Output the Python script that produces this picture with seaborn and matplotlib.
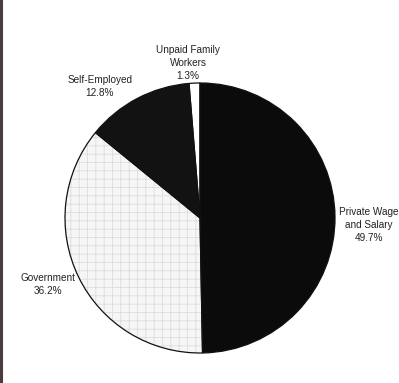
import matplotlib
matplotlib.use("Agg")
import matplotlib.pyplot as plt
from matplotlib.lines import Line2D
import seaborn as sns

sns.set_theme(style="white")
plt.rcParams['font.family'] = ['Liberation Sans', 'DejaVu Sans']
plt.rcParams['hatch.linewidth'] = 0.6

# Data (pie order, clockwise from 12 o'clock)
categories = ["Private Wage\nand Salary", "Government", "Self-Employed", "Unpaid Family\nWorkers"]
values = [49.7, 36.2, 12.8, 1.3]
pct_labels = ["49.7%", "36.2%", "12.8%", "1.3%"]

colors = ["#0b0b0b", "#f6f6f6", "#121212", "#ffffff"]
hatches = ["", "++", "", ""]
hatch_colors = ["#0b0b0b", "#dcdcdc", "#121212", "#ffffff"]

W, H = 399, 383
fig = plt.figure(figsize=(W / 100, H / 100), dpi=100)
ax = fig.add_axes([0, 0, 1, 1])
ax.set_xlim(0, W)
ax.set_ylim(0, H)
ax.set_aspect("equal")
ax.axis("off")

cx, cy, r = 200, H - 218, 135

# filled wedges (with hatch) without outline
wedges, _ = ax.pie(values, startangle=90, counterclock=False, colors=colors,
                   center=(cx, cy), radius=r, frame=True,
                   wedgeprops=dict(linewidth=0))
for w, h, hc in zip(wedges, hatches, hatch_colors):
    w.set_hatch(h)
    w.set_edgecolor(hc)
    w.set_linewidth(0)

# outlines
w2, _ = ax.pie(values, startangle=90, counterclock=False, colors=colors,
               center=(cx, cy), radius=r, frame=True,
               wedgeprops=dict(fill=False, edgecolor="#111111", linewidth=0.9))
ax.set_xlim(0, W)
ax.set_ylim(0, H)
ax.axis("off")

# labels (pixel positions, from top-left)
label_pos = [(369, 207), (48, 273), (100, 75), (188, 45)]
for name, pct, (x, y) in zip(categories, pct_labels, label_pos):
    ax.text(x, H - y, name + "\n" + pct, ha="center", va="top",
            fontsize=7.2, color="#222222", linespacing=1.35)

# left frame border
fig.add_artist(Line2D([0.003, 0.003], [0, 1], transform=fig.transFigure,
                      color="#4a3c3c", linewidth=2.2))

fig.savefig("out.png", dpi=100)
